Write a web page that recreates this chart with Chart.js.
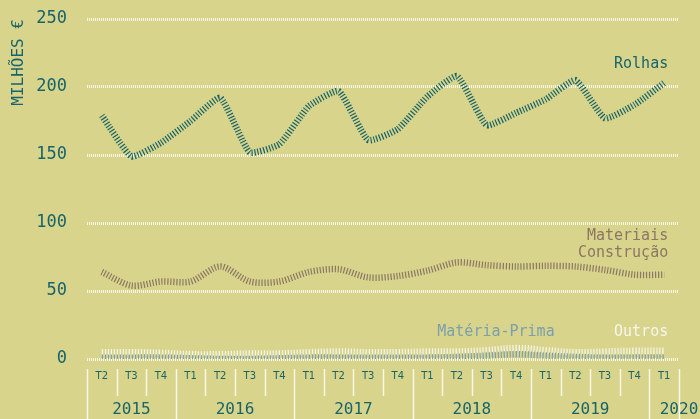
<!DOCTYPE html>
<html lang="pt">
<head>
    <meta charset="UTF-8">
    <title>Exportações de cortiça</title>
    <script src="https://cdn.jsdelivr.net/npm/chart.js"></script>
    <style>
        body {
            margin: 0;
            padding: 0;
            background-color: #d9d48b;
        }

        .wrap {
            width: 700px;
            height: 419px;
        }
    </style>
</head>
<body>
    <div class="wrap">
        <canvas id="corticaChart" width="700" height="419"></canvas>
    </div>

    <script>
        // dados trimestrais, 2015 T2 -> 2020 T1
        const trimestres = ['T2', 'T3', 'T4', 'T1', 'T2', 'T3', 'T4', 'T1', 'T2', 'T3', 'T4', 'T1', 'T2', 'T3', 'T4', 'T1', 'T2', 'T3', 'T4', 'T1'];
        const anos = [2015, 2015, 2015, 2016, 2016, 2016, 2016, 2017, 2017, 2017, 2017, 2018, 2018, 2018, 2018, 2019, 2019, 2019, 2019, 2020];

        const rolhas = [179, 149, 159, 175, 192, 152, 158, 186, 197, 161, 169, 193, 208, 172, 181, 191, 205, 177, 187, 203];
        const materiais = [64, 54, 57, 57, 68, 57, 57, 64, 66, 60, 61, 65, 71, 69, 68, 68.5, 68, 65.5, 62, 62];
        const outros = [5, 5, 4.5, 3.5, 3.5, 4, 4, 5, 5.5, 5, 5, 5.5, 5.5, 6.5, 8, 6.5, 5, 5.5, 6, 6];
        const materiaPrima = [1, 1, 1, 0.5, 0, 0, 0.5, 1, 1, 1, 1, 1, 1.5, 2.5, 3.5, 2.5, 1.5, 1, 1, 1];

        const yTicks = [0, 50, 100, 150, 200, 250];

        const teal = '#17656b';
        const castanho = '#8a7764';
        const azulCinza = '#7b9fac';
        const branco = '#f7f6ee';
        const mono = '"DejaVu Sans Mono", monospace';

        const fundo = {
            id: 'fundo',
            beforeDraw(chart) {
                const ctx = chart.ctx;
                ctx.save();
                ctx.fillStyle = '#d9d48b';
                ctx.fillRect(0, 0, chart.width, chart.height);
                ctx.restore();
            }
        };

        // separadores dos trimestres, anos e nomes das séries
        const extras = {
            id: 'extras',
            afterDraw(chart) {
                const ctx = chart.ctx;
                const x = chart.scales.x;
                const y = chart.scales.y;
                const n = trimestres.length;
                const passo = x.getPixelForValue(1) - x.getPixelForValue(0);
                const topo = chart.chartArea.bottom + 10;

                ctx.save();
                ctx.lineWidth = 1.5;
                ctx.strokeStyle = 'rgba(255,255,255,0.8)';
                for (let i = 0; i <= n; i++) {
                    const px = Math.round(x.getPixelForValue(i) - passo / 2) + 0.5;
                    const novoAno = i === 0 || i === n || anos[i] !== anos[i - 1];
                    ctx.beginPath();
                    ctx.moveTo(px, topo);
                    ctx.lineTo(px, novoAno ? chart.height : topo + 27);
                    ctx.stroke();
                }

                ctx.fillStyle = teal;
                ctx.font = '16px ' + mono;
                ctx.textAlign = 'center';
                ctx.textBaseline = 'middle';
                let inicio = 0;
                for (let i = 1; i <= n; i++) {
                    if (i === n || anos[i] !== anos[inicio]) {
                        let cx = (x.getPixelForValue(inicio) + x.getPixelForValue(i - 1)) / 2;
                        if (i === n) {
                            cx = x.getPixelForValue(i - 1) + passo / 2;
                        }
                        ctx.fillText(String(anos[inicio]), cx, 410);
                        inicio = i;
                    }
                }

                ctx.font = '15px ' + mono;
                ctx.textAlign = 'right';
                const dir = x.getPixelForValue(n - 1) + 4;
                ctx.fillStyle = teal;
                ctx.fillText('Rolhas', dir, y.getPixelForValue(216.5));
                ctx.fillStyle = castanho;
                ctx.fillText('Materiais', dir, y.getPixelForValue(90.5));
                ctx.fillText('Construção', dir, y.getPixelForValue(78));
                ctx.fillStyle = branco;
                ctx.fillText('Outros', dir, y.getPixelForValue(20));
                ctx.fillStyle = azulCinza;
                ctx.fillText('Matéria-Prima', x.getPixelForValue(15.3), y.getPixelForValue(20));
                ctx.restore();
            }
        };

        function serie(nome, dados, cor, tensao) {
            return {
                label: nome,
                data: dados,
                borderColor: cor,
                borderWidth: 6.5,
                borderDash: [1.2, 1.8],
                borderCapStyle: 'butt',
                pointRadius: 0,
                tension: tensao,
                fill: false
            };
        }

        const ctx = document.getElementById('corticaChart').getContext('2d');
        new Chart(ctx, {
            type: 'line',
            data: {
                labels: trimestres,
                datasets: [
                    serie('Matéria-Prima', materiaPrima, azulCinza, 0.4),
                    serie('Outros', outros, branco, 0.4),
                    serie('Materiais Construção', materiais, castanho, 0.3),
                    serie('Rolhas', rolhas, teal, 0.15)
                ]
            },
            options: {
                responsive: false,
                animation: false,
                layout: { padding: { top: 19, right: 21 } },
                plugins: {
                    legend: { display: false },
                    tooltip: { enabled: false }
                },
                scales: {
                    x: {
                        offset: true,
                        grid: { display: false, drawTicks: false },
                        border: { display: false },
                        ticks: {
                            color: teal,
                            padding: 11,
                            maxRotation: 0,
                            autoSkip: false,
                            font: { family: '"DejaVu Sans"', size: 10 }
                        },
                        afterFit(scale) {
                            scale.height = 60;
                        }
                    },
                    y: {
                        min: 0,
                        max: 250,
                        afterBuildTicks(scale) {
                            scale.ticks = yTicks.map(v => ({ value: v }));
                        },
                        grid: {
                            color: 'rgba(255,255,255,0.8)',
                            lineWidth: 3,
                            drawTicks: false
                        },
                        border: { display: false, dash: [1, 1] },
                        ticks: {
                            color: teal,
                            padding: 20,
                            font: { family: mono, size: 17 }
                        },
                        title: {
                            display: true,
                            text: 'MILHÕES €',
                            align: 'end',
                            color: teal,
                            padding: { top: 9, bottom: 0 },
                            font: { family: mono, size: 16 }
                        },
                        afterFit(scale) {
                            scale.width = 87;
                            scale.paddingTop = 0;
                            scale.paddingBottom = 0;
                        }
                    }
                }
            },
            plugins: [fundo, extras]
        });
    </script>
</body>
</html>
